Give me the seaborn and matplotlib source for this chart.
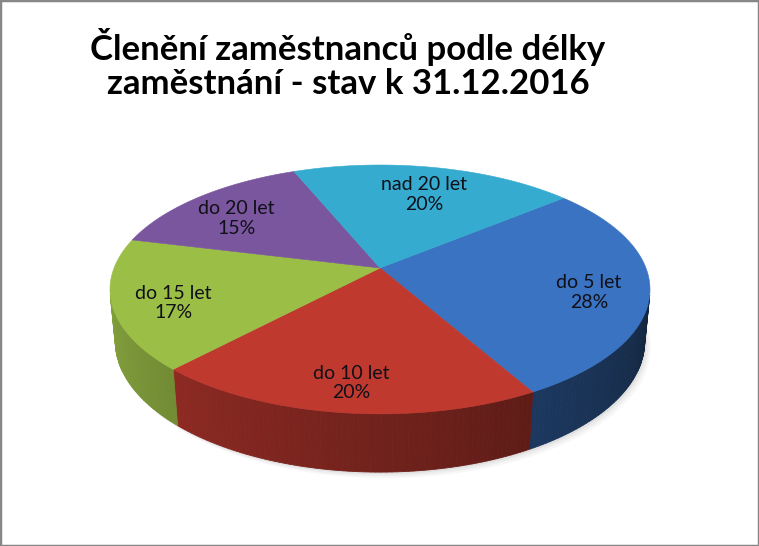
import numpy as np
import seaborn as sns
import matplotlib.pyplot as plt
from matplotlib.patches import Polygon, Rectangle
from matplotlib.colors import to_rgb

# data
labels = ["do 5 let", "do 10 let", "do 15 let", "do 20 let", "nad 20 let"]
shares = [28, 20, 17, 15, 20]
colors = ["#3A73C2", "#C0392F", "#9BBE47", "#7A569E", "#35ABCF"]
title = "Členění zaměstnanců podle délky\nzaměstnání - stav k 31.12.2016"

sns.set_theme(style="white")
plt.rcParams['font.family'] = ['Lato', 'DejaVu Sans']

# simple perspective camera for the 3d pie
PHI = np.radians(27)
DIST = 5.17
FOC = 1375
THICK = 0.22
CX, CY = 380, 268
START = 40  # degrees, slices go clockwise


def project(x, y, z):
    depth = DIST + y * np.cos(PHI) - z * np.sin(PHI)
    px = CX + FOC * x / depth
    py = CY - FOC * (y * np.sin(PHI) + z * np.cos(PHI)) / depth
    return px, py


fig = plt.figure(figsize=(7.59, 5.46), dpi=100)
ax = fig.add_axes([0, 0, 1, 1])
ax.set_xlim(0, 759)
ax.set_ylim(546, 0)
ax.axis("off")

# angles of the slices
vals = np.array(shares, dtype=float)
edges = START - np.concatenate([[0], np.cumsum(vals)]) / vals.sum() * 360

# visible part of the side wall
alpha = np.degrees(np.arcsin(1 / (DIST * np.cos(PHI))))
vis_lo, vis_hi = -180 + alpha, -alpha

# soft shadow under the pie (bottom right)
t = np.radians(np.linspace(0, 360, 200))
for off, a in zip([6, 4, 2], [0.03, 0.04, 0.05]):
    sx, sy = project(np.cos(t), np.sin(t), -THICK)
    ax.add_patch(Polygon(np.column_stack([sx + off, sy + off]), closed=True,
                         facecolor="black", alpha=a, edgecolor="none", zorder=1))

# side walls with shading
for i in range(len(vals)):
    a0, a1 = edges[i], edges[i + 1]
    lo, hi = max(a1, vis_lo), min(a0, vis_hi)
    if lo >= hi:
        continue
    th = np.linspace(lo, hi, int(hi - lo) + 2)
    base = np.array(to_rgb(colors[i]))
    for j in range(len(th) - 1):
        r0, r1 = np.radians(th[j]), np.radians(th[j + 1])
        tx0, ty0 = project(np.cos(r0), np.sin(r0), 0)
        tx1, ty1 = project(np.cos(r1), np.sin(r1), 0)
        bx0, by0 = project(np.cos(r0), np.sin(r0), -THICK)
        bx1, by1 = project(np.cos(r1), np.sin(r1), -THICK)
        mid = (th[j] + th[j + 1]) / 2
        fac = 0.85 - (mid - vis_lo) / (vis_hi - vis_lo) * 0.52
        c = np.clip(base * fac, 0, 1)
        ax.add_patch(Polygon([[tx0, ty0], [tx1, ty1], [bx1, by1], [bx0, by0]],
                             closed=True, facecolor=c, edgecolor=c,
                             linewidth=0.6, zorder=2))

# top faces
for i in range(len(vals)):
    th = np.radians(np.linspace(edges[i], edges[i + 1], 120))
    px, py = project(np.cos(th), np.sin(th), 0)
    pts = np.column_stack([np.r_[CX, px], np.r_[CY, py]])
    ax.add_patch(Polygon(pts, closed=True, facecolor=colors[i],
                         edgecolor=colors[i], linewidth=0.4, zorder=3))

# labels
for i in range(len(vals)):
    mid = np.radians((edges[i] + edges[i + 1]) / 2)
    lx, ly = project(0.78 * np.cos(mid), 0.78 * np.sin(mid), 0)
    pct = f"{vals[i] / vals.sum() * 100:.0f}%"
    ax.text(lx, ly + 7, f"{labels[i]}\n{pct}", ha="center", va="center",
            fontsize=14, color="#101018", linespacing=1.2, zorder=4)

ax.text(348, 64, title, ha="center", va="center", fontsize=25,
        fontweight="bold", color="black", linespacing=1.1, zorder=4)

fig.patches.append(Rectangle((0, 0), 1, 1, transform=fig.transFigure,
                             fill=False, edgecolor="#878787", linewidth=2.5))

fig.savefig("out.png", dpi=100, facecolor="white")
